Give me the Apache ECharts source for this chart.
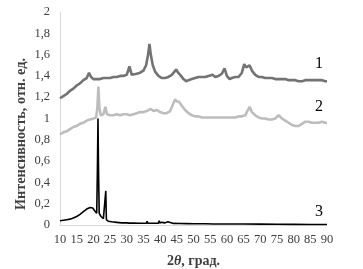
<!DOCTYPE html>
<html><head><meta charset="utf-8">
<script src="https://cdn.jsdelivr.net/npm/echarts@6/dist/echarts.min.js"></script>
<style>html,body{margin:0;padding:0;background:#fff}#c{width:363px;height:269px}</style>
</head><body><div id="c"></div>
<script>
var yTicks = ['0','0,2','0,4','0,6','0,8','1','1,2','1,4','1,6','1,8','2'];
var xTicks = [10,15,20,25,30,35,40,45,50,55,60,65,70,75,80,85,90];
var seriesNames = ['1','2','3'];
var yTitle = 'Интенсивность, отн. ед.';

var curve1X = [10,11,12,13,14,15,16,17,18,18.7,19.3,20,21,22,23,24,25,26,27,28,29,30,30.8,31.5,32,33,34,35,35.8,36.4,36.8,37.2,37.8,38.5,39.5,40.5,41.5,42.5,43.5,44.3,44.8,45.4,46,47,47.8,48.5,49.5,50.5,51.5,52.5,53.5,54.5,55.7,56.5,57.5,58.5,59.3,60,60.8,61.5,62.5,63.5,64.5,65.2,65.8,66.3,66.8,67.5,68.5,69.5,70.5,71.5,72.5,73.5,74.5,75.5,76.5,77.5,78.5,79.5,80.5,81.5,82.5,83.5,84.5,85.5,86.5,87.5,88.5,89.5,90];
var curve1Y = [1.19,1.21,1.23,1.26,1.28,1.31,1.33,1.36,1.38,1.43,1.39,1.37,1.37,1.37,1.38,1.38,1.38,1.39,1.39,1.40,1.40,1.41,1.49,1.41,1.41,1.42,1.43,1.45,1.50,1.60,1.70,1.60,1.50,1.44,1.40,1.38,1.38,1.39,1.41,1.44,1.46,1.43,1.41,1.37,1.35,1.36,1.37,1.38,1.39,1.39,1.39,1.40,1.41,1.39,1.40,1.42,1.47,1.40,1.37,1.38,1.39,1.39,1.43,1.51,1.48,1.48,1.50,1.45,1.41,1.39,1.39,1.38,1.38,1.38,1.37,1.37,1.37,1.37,1.36,1.36,1.36,1.35,1.35,1.36,1.36,1.36,1.36,1.36,1.36,1.35,1.35];

var curve2X = [10,11,12,13,14,15,16,17,18,19,20,20.8,21.2,21.5,21.8,22.2,23,23.6,24.1,25,26,27,28,29,30,31,32,33,34,35,36,37.2,38,39,40,41,42,43,43.8,44.5,45,45.6,46.5,47.5,48.5,49.5,50.5,51.5,52.5,53.5,54.5,55.5,56.5,57.5,58.5,59.5,60.5,61.5,62.5,63.5,64.5,65.5,66.3,66.8,67.5,68.5,69.5,70.5,71.5,72.5,73.5,74.5,75.5,76.5,77.5,78.5,79.5,80.5,81.5,82.5,83.5,84.5,85.5,86.5,87.5,88.5,89.5,90];
var curve2Y = [0.85,0.87,0.88,0.90,0.92,0.93,0.95,0.96,0.98,0.99,1.00,1.01,1.10,1.30,1.10,1.03,1.04,1.11,1.04,1.03,1.03,1.04,1.03,1.04,1.04,1.03,1.04,1.05,1.06,1.06,1.07,1.09,1.07,1.08,1.06,1.05,1.05,1.07,1.13,1.18,1.16,1.16,1.12,1.08,1.05,1.03,1.02,1.02,1.01,1.01,1.01,1.01,1.01,1.01,1.01,1.01,1.01,1.01,1.01,1.02,1.02,1.03,1.08,1.11,1.06,1.03,1.01,1.00,1.00,0.99,0.99,1.00,1.03,1.00,0.98,0.96,0.94,0.93,0.93,0.95,0.97,0.97,0.96,0.96,0.96,0.97,0.96,0.96];

var curve3X = [10,11,12,13,14,15,16,17,18,19,19.8,20.5,21,21.2,21.38,21.55,21.75,22.3,23,23.55,23.72,23.9,24.5,25.5,27,28.5,30,30.3,30.6,32,34,35.9,36.1,36.3,38,39.5,39.7,39.9,40.5,41,41.5,42.3,42.8,44,46,48,50,52,53.5,53.7,54,56,60,65,70,75,80,85,90];
var curve3Y = [0.04,0.045,0.05,0.055,0.065,0.08,0.10,0.125,0.15,0.165,0.16,0.13,0.11,0.5,1.0,0.5,0.11,0.08,0.06,0.05,0.32,0.05,0.035,0.03,0.025,0.02,0.02,0.03,0.018,0.018,0.016,0.016,0.035,0.016,0.016,0.016,0.04,0.02,0.025,0.03,0.02,0.03,0.018,0.015,0.014,0.013,0.012,0.012,0.012,0.02,0.011,0.01,0.01,0.009,0.008,0.007,0.006,0.005,0.005];

function pairs(xs, ys){ return xs.map(function(x,i){ return [x, ys[i]]; }); }

var chart = echarts.init(document.getElementById('c'), null, {renderer:'canvas'});
var serif = '"Liberation Serif","Times New Roman",serif';
chart.setOption({
  animation:false,
  backgroundColor:'#fff',
  grid:{left:60, right:36, top:12, bottom:44, containLabel:false, outerBoundsMode:'none'},
  xAxis:{
    type:'value', min:10, max:90, interval:5,
    axisLine:{show:true, lineStyle:{color:'#d9d9d9', width:1}},
    axisTick:{show:false}, splitLine:{show:false},
    axisLabel:{color:'#404040', fontFamily:serif, fontSize:12.5, margin:8,
      formatter:function(v){ return xTicks.indexOf(v) >= 0 ? String(v) : ''; }},
    name:'{a|2}{b|θ}{a|, град.}', nameLocation:'middle', nameGap:29,
    nameTextStyle:{rich:{
      a:{fontFamily:serif, fontWeight:'bold', fontSize:14, color:'#404040'},
      b:{fontFamily:serif, fontWeight:'bold', fontStyle:'italic', fontSize:14, color:'#404040'}}}
  },
  yAxis:{
    type:'value', min:0, max:2, interval:0.2,
    axisLine:{show:true, lineStyle:{color:'#d9d9d9', width:1}},
    axisTick:{show:false}, splitLine:{show:false},
    axisLabel:{color:'#404040', fontFamily:serif, fontSize:12.5, margin:10,
      formatter:function(v){ return yTicks[Math.round(v/0.2)]; }}
  },
  series:[
    {name:seriesNames[0], type:'line', data:pairs(curve1X,curve1Y), showSymbol:false,
      lineStyle:{color:'#737373', width:2.6}, z:3},
    {name:seriesNames[1], type:'line', data:pairs(curve2X,curve2Y), showSymbol:false,
      lineStyle:{color:'#bdbdbd', width:2.6}, z:2},
    {name:seriesNames[2], type:'line', data:pairs(curve3X,curve3Y), showSymbol:false,
      lineStyle:{color:'#000000', width:1.6}, z:4}
  ],
  graphic:[
    {type:'text', x:21, y:134, rotation:Math.PI/2,
      style:{text:yTitle, font:'bold 14.2px '+serif, fill:'#404040', align:'center', verticalAlign:'middle'}},
    {type:'text', left:315, top:56, style:{text:seriesNames[0], font:'16px '+serif, fill:'#000'}},
    {type:'text', left:315, top:99, style:{text:seriesNames[1], font:'16px '+serif, fill:'#000'}},
    {type:'text', left:315, top:204, style:{text:seriesNames[2], font:'16px '+serif, fill:'#000'}}
  ]
});
</script></body></html>
